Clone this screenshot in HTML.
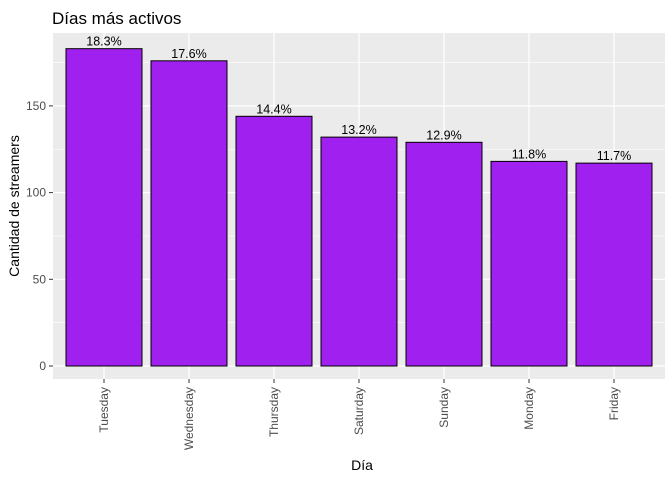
<!DOCTYPE html>
<html><head><meta charset="utf-8"><style>
body{margin:0;background:#fff;font-family:"Liberation Sans",sans-serif}
</style></head><body>
<svg width="672" height="480" xmlns="http://www.w3.org/2000/svg">
<text x="52" y="24" font-size="17" fill="#000">Días más activos</text>
<rect x="53" y="33" width="612" height="346" fill="#EBEBEB"/>
<g id="grid"></g><g id="bars"></g><g id="axes"></g>
<text x="362" y="470" font-size="14" text-anchor="middle">Día</text>
<text transform="translate(19,206) rotate(-90)" font-size="14" text-anchor="middle">Cantidad de streamers</text>
</svg>
<script>
const categories=["Tuesday","Wednesday","Thursday","Saturday","Sunday","Monday","Friday"];
const values=[183,176,144,132,129,118,117];
const labels=["18.3%","17.6%","14.4%","13.2%","12.9%","11.8%","11.7%"];
const yTicks=[0,50,100,150];
const NS="http://www.w3.org/2000/svg";
const y0=366, pxPer=86.7/50;
const y=v=>y0-v*pxPer;
const x=i=>104+i*85;
function mk(tag,attrs,parent){const e=document.createElementNS(NS,tag);for(const k in attrs)e.setAttribute(k,attrs[k]);document.getElementById(parent).appendChild(e);return e;}
for(let t=25;t<=175;t+=50){const g=mk('line',{x1:53,x2:665,y1:y(t),y2:y(t),stroke:'#fff','stroke-width':0.6},'grid');}
yTicks.forEach(t=>{const g=mk('line',{x1:53,x2:665,y1:y(t),y2:y(t),stroke:'#fff','stroke-width':1.2},'grid');
const tk=mk('line',{x1:49,x2:53,y1:y(t),y2:y(t),stroke:'#333'},'axes');
const l=mk('text',{x:46,y:y(t)+4,'font-size':12,'text-anchor':'end',fill:'#4D4D4D'},'axes');l.textContent=t;});
categories.forEach((c,i)=>{const g=mk('line',{x1:x(i),x2:x(i),y1:33,y2:379,stroke:'#fff','stroke-width':1.2},'grid');
const b=mk('rect',{x:x(i)-38,y:y(values[i]),width:76,height:y0-y(values[i]),fill:'#A020F0',stroke:'#000','stroke-width':1},'bars');
const v=mk('text',{x:x(i),y:y(values[i])-3,'font-size':12.5,'text-anchor':'middle'},'bars');v.textContent=labels[i];
const tk=mk('line',{x1:x(i),x2:x(i),y1:379,y2:383,stroke:'#333'},'axes');
const l=mk('text',{transform:`translate(${x(i)+4},387) rotate(-90)`,'font-size':12,'text-anchor':'end',fill:'#4D4D4D'},'axes');l.textContent=c;});
</script>
</body></html>
